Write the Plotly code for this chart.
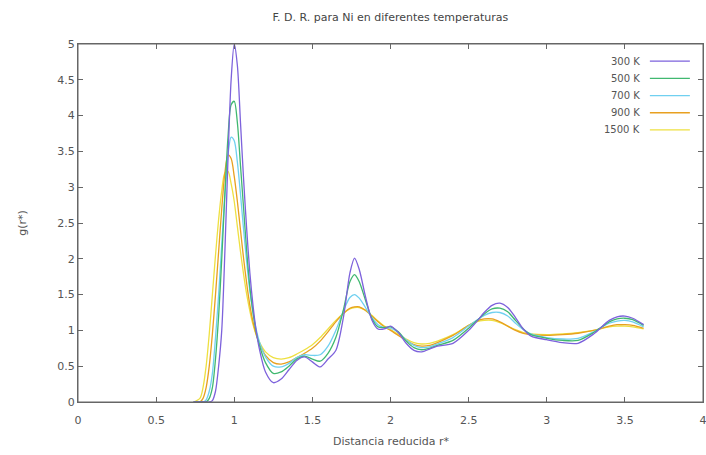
import plotly.graph_objects as go

r = [0.74, 0.78, 0.80, 0.82, 0.84, 0.86, 0.88, 0.90, 0.92, 0.94,
     0.96, 0.98, 1.00, 1.02, 1.04, 1.06, 1.08, 1.10, 1.12, 1.14,
     1.16, 1.20, 1.25, 1.30, 1.35, 1.40, 1.45, 1.50, 1.55, 1.60,
     1.65, 1.70, 1.74, 1.77, 1.80, 1.84, 1.88, 1.92, 1.96, 2.00,
     2.05, 2.10, 2.15, 2.20, 2.25, 2.30, 2.40, 2.50, 2.55, 2.60,
     2.65, 2.70, 2.75, 2.80, 2.85, 2.90, 3.00, 3.10, 3.20, 3.30,
     3.40, 3.45, 3.50, 3.55, 3.62]

g_300 = [0, 0, 0, 0, 0, 0.02, 0.15, 0.5, 1.0, 2.1,
         3.4, 4.5, 5.0, 4.7, 3.9, 3.1, 2.4, 1.8, 1.35, 1.0,
         0.75, 0.42, 0.27, 0.32, 0.45, 0.58, 0.63, 0.56, 0.49, 0.6,
         0.72, 1.2, 1.8, 2.01, 1.85, 1.47, 1.15, 1.02, 1.02, 1.06,
         0.97, 0.82, 0.72, 0.70, 0.74, 0.78, 0.82, 1.0, 1.12, 1.25,
         1.35, 1.38, 1.32, 1.18, 1.02, 0.92, 0.87, 0.83, 0.82, 0.95,
         1.14, 1.19, 1.20, 1.17, 1.08]

g_500 = [0, 0, 0, 0, 0.05, 0.2, 0.6, 1.2, 2.0, 2.9,
         3.7, 4.15, 4.2, 3.9, 3.3, 2.7, 2.1, 1.6, 1.25, 0.98,
         0.8, 0.55, 0.4, 0.42, 0.5, 0.6, 0.64, 0.6, 0.57, 0.68,
         0.9, 1.3, 1.68, 1.78, 1.68, 1.42, 1.17, 1.05, 1.04, 1.05,
         0.98, 0.85, 0.76, 0.73, 0.75, 0.79, 0.86, 1.03, 1.13, 1.23,
         1.3, 1.31, 1.26, 1.14, 1.02, 0.94, 0.89, 0.86, 0.86, 0.97,
         1.12, 1.16, 1.17, 1.15, 1.07]

g_700 = [0, 0, 0, 0.03, 0.15, 0.4, 0.9, 1.5, 2.2, 2.9,
         3.45, 3.7, 3.65, 3.35, 2.9, 2.4, 1.95, 1.55, 1.25, 1.02,
         0.85, 0.63, 0.5, 0.49, 0.54, 0.62, 0.66, 0.65, 0.66, 0.78,
         1.0, 1.28, 1.46, 1.5, 1.45, 1.32, 1.18, 1.08, 1.04, 1.03,
         0.97, 0.87, 0.79, 0.76, 0.77, 0.81, 0.9, 1.06, 1.14, 1.21,
         1.25, 1.25, 1.2, 1.1, 1.01, 0.95, 0.9, 0.88, 0.89, 0.98,
         1.1, 1.13, 1.14, 1.12, 1.05]

g_900 = [0, 0, 0.05, 0.2, 0.5, 0.95, 1.5, 2.1, 2.7, 3.2,
         3.45, 3.4, 3.15, 2.8, 2.4, 2.0, 1.65, 1.35, 1.12, 0.95,
         0.82, 0.65, 0.55, 0.53, 0.56, 0.62, 0.68, 0.75, 0.85, 0.98,
         1.12, 1.24, 1.31, 1.33, 1.33, 1.28, 1.2, 1.12, 1.05, 1.0,
         0.93, 0.86, 0.8, 0.78, 0.79, 0.83, 0.93, 1.07, 1.13, 1.16,
         1.16, 1.12, 1.06, 1.0, 0.96, 0.94, 0.93, 0.94, 0.96, 1.0,
         1.06, 1.08, 1.08, 1.07, 1.03]

g_1500 = [0, 0.05, 0.2, 0.5, 0.95, 1.5, 2.05, 2.55, 2.95, 3.2,
          3.22, 3.05, 2.8, 2.45, 2.1, 1.78, 1.5, 1.27, 1.08, 0.94,
          0.84, 0.7, 0.62, 0.6, 0.62, 0.67, 0.73, 0.8, 0.9, 1.02,
          1.14, 1.24, 1.3, 1.32, 1.32, 1.28, 1.21, 1.13, 1.06, 1.01,
          0.95, 0.88, 0.83, 0.81, 0.82, 0.85, 0.94, 1.07, 1.12, 1.14,
          1.14, 1.11, 1.06, 1.01, 0.97, 0.95, 0.94, 0.95, 0.97, 1.0,
          1.05, 1.06, 1.06, 1.05, 1.02]

labels = ["300 K", "500 K", "700 K", "900 K", "1500 K"]
series = [g_300, g_500, g_700, g_900, g_1500]
colors = ["#7d62dc", "#40b870", "#70d0f0", "#e8a020", "#eee040"]

x_ticks = [0, 0.5, 1, 1.5, 2, 2.5, 3, 3.5, 4]
y_ticks = [0, 0.5, 1, 1.5, 2, 2.5, 3, 3.5, 4, 4.5, 5]

FONT = "DejaVu Sans"
TXT = "#555555"
AX = "#666666"

fig = go.Figure()
# draw in reverse so 300 K ends on top
for lab, ys, col in reversed(list(zip(labels, series, colors))):
    fig.add_trace(go.Scatter(x=r, y=ys, mode="lines", name=lab,
                             line=dict(color=col, width=1.3, shape="spline", smoothing=0.8),
                             showlegend=False, hoverinfo="skip"))

# plot frame
fig.add_shape(type="rect", xref="paper", yref="paper", x0=0, x1=1, y0=0, y1=1,
              line=dict(color=AX, width=1), layer="above")

# manual gnuplot-style legend
y0 = 0.952
dy = 0.048
for i, (lab, col) in enumerate(zip(labels, colors)):
    yy = y0 - i * dy
    fig.add_annotation(x=0.902, y=yy, xref="paper", yref="paper", text=lab,
                       showarrow=False, xanchor="right", yanchor="middle",
                       font=dict(family=FONT, size=10, color=TXT))
    fig.add_shape(type="line", xref="paper", yref="paper", x0=0.915, x1=0.979,
                  y0=yy, y1=yy, line=dict(color=col, width=1.3))

axis_common = dict(showgrid=False, zeroline=False, showline=True, linecolor=AX,
                   linewidth=1, mirror="ticks", ticks="inside", ticklen=5,
                   tickcolor=AX, tickwidth=1, automargin=False,
                   tickfont=dict(family=FONT, size=11, color=TXT))

fig.update_xaxes(range=[0, 4], tickvals=x_ticks, ticktext=[f"{v:g}" for v in x_ticks],
                 ticklabelstandoff=8, ticklabeloverflow="allow", **axis_common)
fig.update_yaxes(range=[0, 5], tickvals=y_ticks, ticktext=[f"{v:g}" for v in y_ticks],
                 **axis_common)

fig.add_annotation(x=0.5, y=-0.109, xref="paper", yref="paper",
                   text="Distancia reducida r*", showarrow=False,
                   yanchor="middle", xanchor="center",
                   font=dict(family=FONT, size=11, color=TXT))
fig.add_annotation(x=-0.09, y=0.5, xref="paper", yref="paper",
                   text="g(r*)", showarrow=False, textangle=-90,
                   yanchor="middle", xanchor="center",
                   font=dict(family=FONT, size=11, color=TXT))

fig.update_layout(
    width=706, height=455,
    margin=dict(l=78, r=3, t=44, b=53, autoexpand=False),
    paper_bgcolor="white", plot_bgcolor="white",
    title=dict(text="F. D. R. para Ni en diferentes temperaturas",
               x=0.553, xanchor="center", y=0.963, yanchor="middle",
               font=dict(family=FONT, size=11, color="#444444")),
)

fig.write_html("out.html", config={"displayModeBar": False},
               post_script="document.body.style.margin='0';")
